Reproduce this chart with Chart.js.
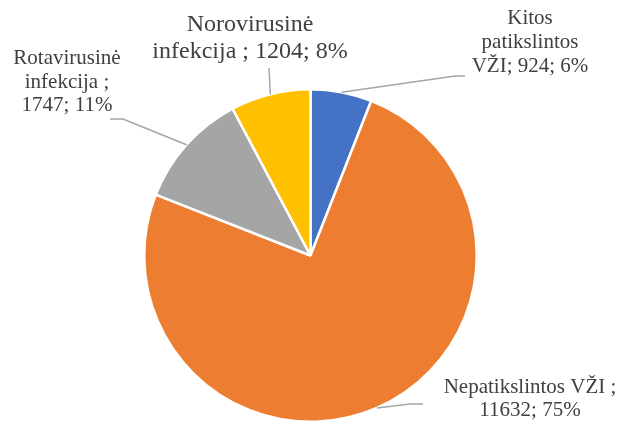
<!DOCTYPE html>
<html>
<head>
<meta charset="utf-8">
<script src="https://cdn.jsdelivr.net/npm/chart.js@4"></script>
<style>
  html, body { margin: 0; padding: 0; background: #fff; }
  #wrap { width: 619px; height: 423px; }
</style>
</head>
<body>
<div id="wrap"><canvas id="myChart" width="619" height="423"></canvas></div>
<script>
const categories = [
  "Kitos patikslintos VŽI",
  "Nepatikslintos VŽI",
  "Rotavirusinė infekcija",
  "Norovirusinė infekcija"
];
const counts = [924, 11632, 1747, 1204];
const percents = ["6%", "75%", "11%", "8%"];
const colors = ["#4472C4", "#ED7D31", "#A5A5A5", "#FFC000"];

// label text split in lines as in the picture
const labelLines = [
  ["Kitos", "patikslintos", "VŽI; " + counts[0] + "; " + percents[0]],
  ["Nepatikslintos VŽI ;", counts[1] + "; " + percents[1]],
  ["Rotavirusinė", "infekcija ;", counts[2] + "; " + percents[2]],
  ["Norovirusinė", "infekcija ; " + counts[3] + "; " + percents[3]]
];

// where each label sits (centre x, first baseline) and where its leader bends
const labelPos = [
  { x: 530, y: 24, size: 21, step: 24, elbow: [[455, 76], [465, 76]] },
  { x: 530, y: 393, size: 21, step: 23, elbow: [[410, 404], [423, 404]] },
  { x: 67, y: 64, size: 21, step: 23.5, elbow: [[123, 119], [110, 119]] },
  { x: 250, y: 31, size: 24, step: 26.5, elbow: [[269, 68]] }
];

const pieLabels = {
  id: "pieLabels",
  afterDraw(chart) {
    const ctx = chart.ctx;
    const arcs = chart.getDatasetMeta(0).data;
    ctx.save();
    arcs.forEach((arc, i) => {
      const lp = labelPos[i];
      const mid = (arc.startAngle + arc.endAngle) / 2;
      const sx = arc.x + Math.cos(mid) * arc.outerRadius;
      const sy = arc.y + Math.sin(mid) * arc.outerRadius;
      ctx.beginPath();
      ctx.moveTo(sx, sy);
      lp.elbow.forEach(p => ctx.lineTo(p[0], p[1]));
      ctx.lineWidth = 1.5;
      ctx.strokeStyle = "#A6A6A6";
      ctx.stroke();

      ctx.fillStyle = "#404040";
      ctx.font = lp.size + "px 'Liberation Serif'";
      ctx.textAlign = "center";
      ctx.textBaseline = "alphabetic";
      labelLines[i].forEach((t, k) => {
        ctx.fillText(t, lp.x, lp.y + k * lp.step);
      });
    });
    ctx.restore();
  }
};

const ctx = document.getElementById("myChart").getContext("2d");

new Chart(ctx, {
  type: "pie",
  data: {
    labels: categories,
    datasets: [{
      data: counts,
      backgroundColor: colors,
      borderColor: "#ffffff",
      borderWidth: 2.5
    }]
  },
  options: {
    responsive: false,
    animation: false,
    layout: { padding: { top: 88, bottom: 0, left: 143, right: 141 } },
    plugins: {
      legend: { display: false },
      tooltip: { enabled: false }
    }
  },
  plugins: [pieLabels]
});
</script>
</body>
</html>
